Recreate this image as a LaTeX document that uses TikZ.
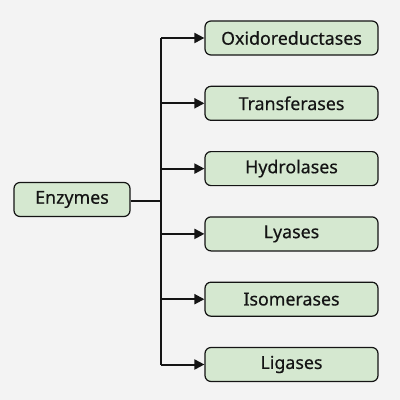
\documentclass[tikz,border=0pt]{standalone}
\usepackage{fontspec}
\setmainfont[FakeBold=0.4]{Noto Sans}
\usetikzlibrary{arrows.meta}
\definecolor{bgc}{HTML}{F3F3F3}
\definecolor{boxfill}{HTML}{D5E8D0}
\definecolor{ink}{HTML}{141414}
\begin{document}
\begin{tikzpicture}[x=1pt,y=-1pt,
  box/.style={draw=ink,fill=boxfill,rounded corners=6pt,line width=1.2pt,minimum height=34pt,inner sep=0pt,font=\fontsize{17.8}{20}\selectfont,text=ink},
  leaf/.style={box,minimum width=173pt},
  conn/.style={draw=ink,line width=2pt},
  arr/.style={conn,-{Triangle[length=10pt,width=10pt]}}]
\fill[bgc] (0,0) rectangle (400,400);
\useasboundingbox (0,0) rectangle (400,400);
\node[box,minimum width=116pt] (enz) at (72,199.5) {Enzymes};
\node[leaf] (l1) at (291.5,38) {Oxidoreductases};
\node[leaf] (l2) at (291.5,103.3) {Transferases};
\node[leaf] (l3) at (291.5,168.6) {Hydrolases};
\node[leaf] (l4) at (291.5,233.9) {Lyases};
\node[leaf] (l5) at (291.5,299.2) {Isomerases};
\node[leaf] (l6) at (291.5,364.5) {Ligases};
\coordinate (j) at (161,201);
\coordinate (top) at (161,38);
\coordinate (bot) at (161,364.5);
\draw[conn] (enz.east |- j) -- (j);
\draw[conn] (top) -- (bot);
\foreach \i in {1,...,6}{
  \draw[arr] (161,0 |- l\i.west) -- (l\i.west);
}
\end{tikzpicture}
\end{document}
